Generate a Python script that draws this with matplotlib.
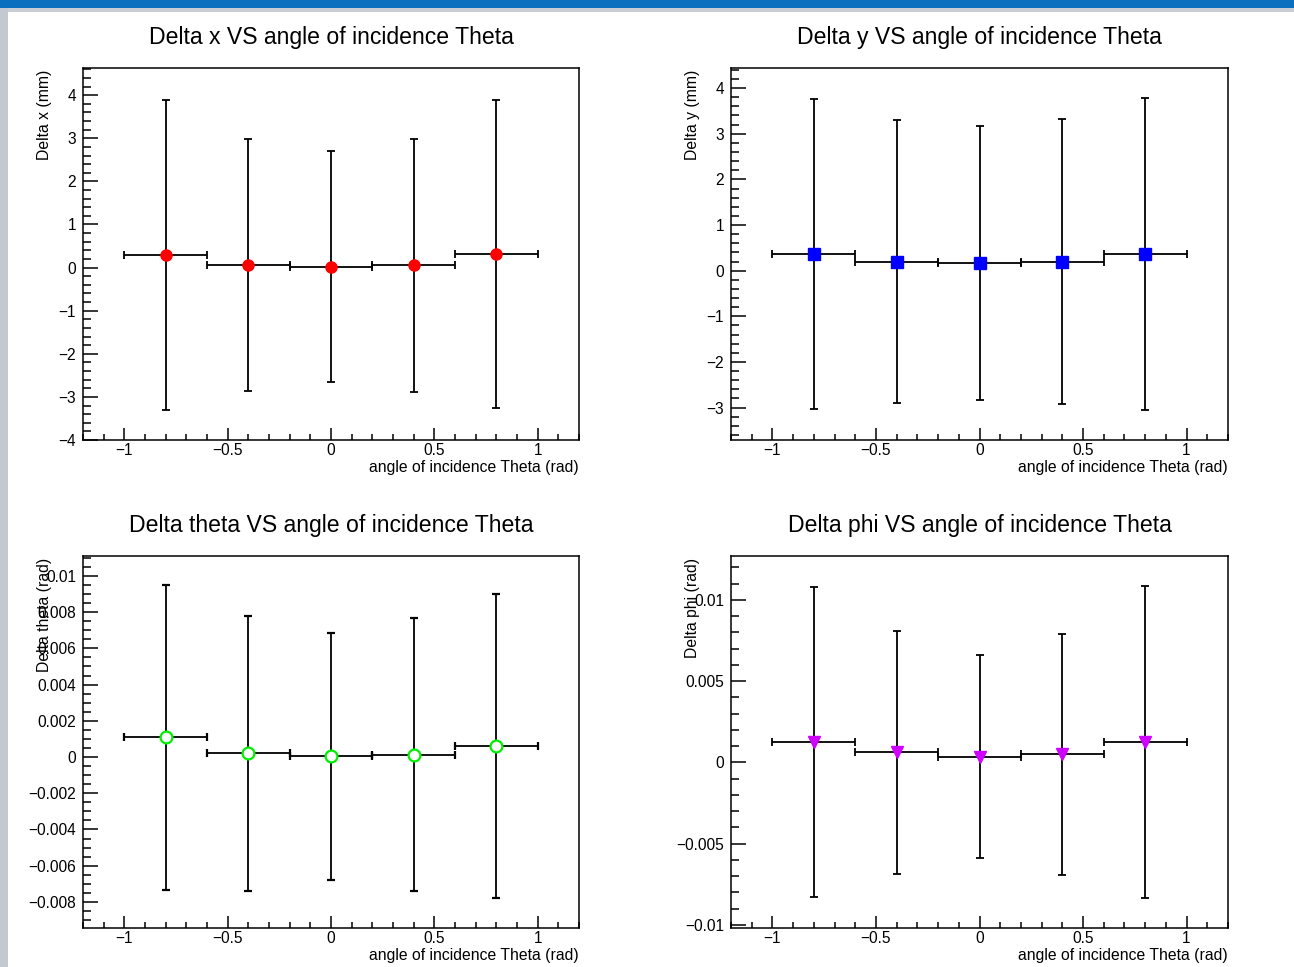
import matplotlib
matplotlib.use("Agg")
import matplotlib.pyplot as plt
from matplotlib.patches import Rectangle
from matplotlib.ticker import MultipleLocator, FuncFormatter

plt.rcParams['font.family'] = ['Liberation Sans', 'DejaVu Sans']

# angle of incidence bins (rad)
theta = [-0.8, -0.4, 0.0, 0.4, 0.8]
theta_err = [0.2, 0.2, 0.2, 0.2, 0.2]

# residuals
delta_x = [0.29, 0.06, 0.02, 0.05, 0.32]
delta_x_err = [3.6, 2.93, 2.68, 2.94, 3.57]

delta_y = [0.36, 0.20, 0.17, 0.20, 0.37]
delta_y_err = [3.4, 3.1, 3.0, 3.12, 3.42]

delta_theta = [0.00108, 0.0002, 0.00003, 0.00013, 0.00061]
delta_theta_err = [0.0084, 0.00757, 0.0068, 0.00755, 0.00837]

delta_phi = [0.00124, 0.00062, 0.00033, 0.00049, 0.00124]
delta_phi_err = [0.00955, 0.00747, 0.00625, 0.0074, 0.0096]

titles = ["Delta x VS angle of incidence Theta", "Delta y VS angle of incidence Theta",
          "Delta theta VS angle of incidence Theta", "Delta phi VS angle of incidence Theta"]
ylabels = ["Delta x (mm)", "Delta y (mm)", "Delta theta (rad)", "Delta phi (rad)"]
xlabel = "angle of incidence Theta (rad)"


def root_fmt(v, pos):
    if abs(v) < 1e-12:
        return "0"
    return ("%g" % v).replace("-", "\u2212")


W, H = 1294, 967
fig = plt.figure(figsize=(W / 100, H / 100), dpi=100)
fig.patch.set_facecolor("white")

# screenshot frame: blue top bar and grey left strip
fig.patches.append(Rectangle((0, 1 - 12 / H), 1, 12 / H, transform=fig.transFigure,
                             facecolor="#c9ced6", edgecolor="none", zorder=0))
fig.patches.append(Rectangle((0, 1 - 8 / H), 1, 8 / H, transform=fig.transFigure,
                             facecolor="#0b6fbf", edgecolor="none", zorder=0))
fig.patches.append(Rectangle((0, 0), 8 / W, 1 - 8 / H, transform=fig.transFigure,
                             facecolor="#c4c9d1", edgecolor="none", zorder=0))


def make_axes(left, top, right, bottom):
    return fig.add_axes([left / W, 1 - bottom / H, (right - left) / W, (bottom - top) / H])


ax1 = make_axes(83, 68, 579, 440)
ax2 = make_axes(731, 68, 1228, 440)
ax3 = make_axes(83, 556, 579, 928)
ax4 = make_axes(731, 556, 1228, 928)

panels = [
    (ax1, delta_x, delta_x_err, dict(marker='o', mfc='#ff0000', mec='#ff0000', ms=8),
     (-4.0, 4.63), 1.0, 0.2),
    (ax2, delta_y, delta_y_err, dict(marker='s', mfc='#0000ff', mec='#0000ff', ms=8),
     (-3.71, 4.44), 1.0, 0.2),
    (ax3, delta_theta, delta_theta_err, dict(marker='o', mfc='white', mec='#00ee00', ms=8.5, mew=1.6),
     (-0.00944, 0.0111), 0.002, 0.0005),
    (ax4, delta_phi, delta_phi_err, dict(marker='v', mfc='#d000ff', mec='#d000ff', ms=8),
     (-0.0102, 0.0127), 0.005, 0.001),
]

for i, (ax, vals, errs, mstyle, ylim, ymaj, ymin) in enumerate(panels):
    ax.errorbar(theta, vals, xerr=theta_err, yerr=errs, linestyle='none',
                ecolor='black', elinewidth=1.3, capsize=2.6, capthick=1.3, **mstyle)
    ax.set_xlim(-1.2, 1.2)
    ax.set_ylim(*ylim)
    ax.xaxis.set_major_locator(MultipleLocator(0.5))
    ax.xaxis.set_minor_locator(MultipleLocator(0.1))
    ax.yaxis.set_major_locator(MultipleLocator(ymaj))
    ax.yaxis.set_minor_locator(MultipleLocator(ymin))
    ax.xaxis.set_major_formatter(FuncFormatter(root_fmt))
    ax.yaxis.set_major_formatter(FuncFormatter(root_fmt))
    ax.tick_params(which='both', direction='in', top=False, right=False, width=1.1,
                   labelsize=11.2, colors='black')
    ax.tick_params(axis='x', which='major', length=8.5, pad=2.5)
    ax.tick_params(axis='x', which='minor', length=4.5)
    ax.tick_params(axis='y', which='major', length=10.5, pad=5)
    ax.tick_params(axis='y', which='minor', length=5.5)
    for sp in ax.spines.values():
        sp.set_linewidth(1.1)

    ax.set_title(titles[i], fontsize=16.6, pad=17)

    ax.set_xlabel(xlabel, fontsize=11.3, loc='right')
    ax.xaxis.set_label_coords(1.0, -0.053)

    lab = ax.set_ylabel(ylabels[i], fontsize=11.3, loc='top')
    lab.set_rotation_mode('default')
    lab.set_horizontalalignment('center')
    lab.set_verticalalignment('top')
    ax.yaxis.set_label_coords(-0.077, 0.995)

fig.savefig("out.png", dpi=100)
